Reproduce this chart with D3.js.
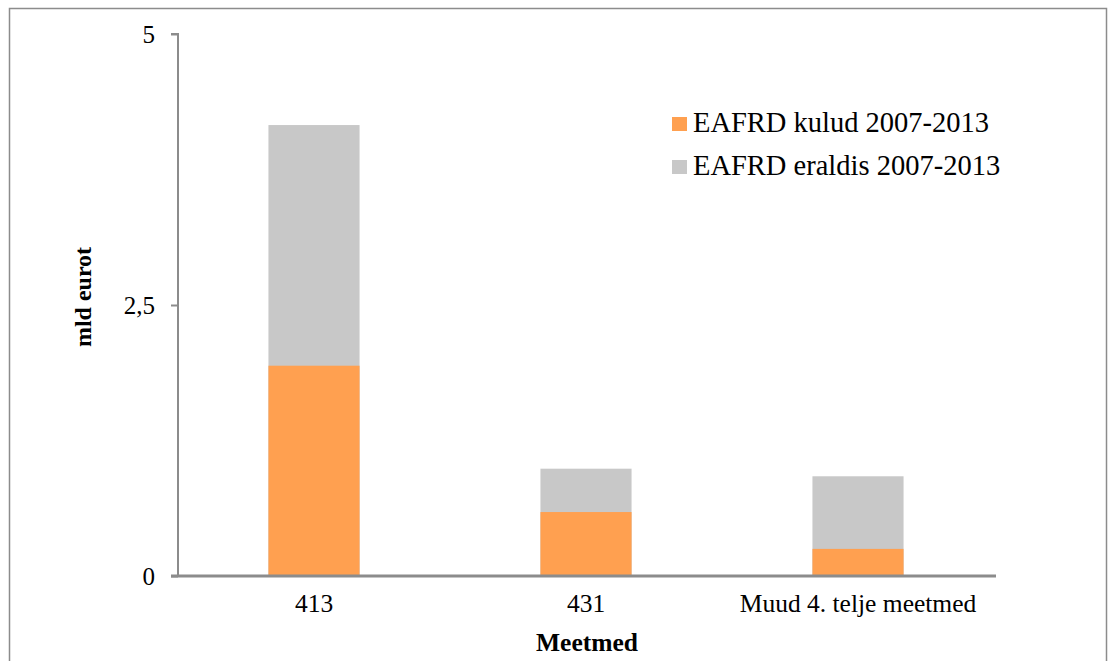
<!DOCTYPE html>
<html><head><meta charset="utf-8">
<script src="https://cdn.jsdelivr.net/npm/d3@7"></script>
<style>body{margin:0;background:#fff}svg{display:block}text{font-family:"Liberation Serif","Times New Roman",serif;fill:#000}</style>
</head><body>
<svg id="c" width="1109" height="661"></svg>
<script>
const categories = ["413", "431", "Muud 4. telje meetmed"];
const kulud = [1.94, 0.59, 0.25];     // EAFRD kulud 2007-2013
const eraldis = [4.16, 0.99, 0.92];   // EAFRD eraldis 2007-2013
const yTicks = [0, 2.5, 5];
const seriesNames = ["EAFRD kulud 2007-2013", "EAFRD eraldis 2007-2013"];
const colors = ["#FFA050", "#C8C8C8"];

const svg = d3.select("#c");
svg.append("rect").attr("x", 9.5).attr("y", 8.5).attr("width", 1097).attr("height", 660)
  .attr("fill", "#fff").attr("stroke", "#8c8c8c").attr("stroke-width", 1.5);

const m = {l: 178, r: 996, t: 34, b: 576};
const x = d3.scaleBand().domain(categories).range([m.l, m.l + 3 * 272]).paddingInner(0.665).paddingOuter(0.3325);
const y = d3.scaleLinear().domain([0, 5]).range([m.b, m.t]);

const g = svg.append("g");
g.selectAll("rect.e").data(categories).join("rect").attr("class", "e")
  .attr("x", d => x(d)).attr("width", x.bandwidth())
  .attr("y", (d, i) => y(eraldis[i])).attr("height", (d, i) => y(0) - y(eraldis[i]))
  .attr("fill", colors[1]);
g.selectAll("rect.k").data(categories).join("rect").attr("class", "k")
  .attr("x", d => x(d)).attr("width", x.bandwidth())
  .attr("y", (d, i) => y(kulud[i])).attr("height", (d, i) => y(0) - y(kulud[i]))
  .attr("fill", colors[0]);

const ya = svg.append("g").attr("transform", `translate(${m.l},0)`)
  .call(d3.axisLeft(y).tickValues(yTicks).tickSize(7).tickPadding(16)
    .tickFormat(d => String(d).replace(".", ",")));
ya.select(".domain").attr("stroke", "#8c8c8c").attr("stroke-width", 2).attr("d", `M-7,${m.t}H0V${m.b}`);
ya.selectAll(".tick line").attr("stroke", "#8c8c8c").attr("stroke-width", 2);
ya.selectAll(".tick text").attr("font-size", 25).attr("fill", "#000");

const xa = svg.append("g").attr("transform", `translate(0,${m.b})`)
  .call(d3.axisBottom(x).tickSize(0).tickPadding(18));
xa.select(".domain").attr("stroke", "#8c8c8c").attr("stroke-width", 3).attr("d", `M${m.l - 7},0H${m.r}`);
xa.selectAll(".tick text").attr("font-size", 25.5).attr("fill", "#000");

svg.append("text").attr("x", 587).attr("y", 651).attr("text-anchor", "middle")
  .attr("font-size", 25.5).attr("font-weight", "bold").text("Meetmed");
svg.append("text").attr("transform", "translate(91,297) rotate(-90)").attr("text-anchor", "middle")
  .attr("font-size", 24).attr("font-weight", "bold").text("mld eurot");

const lg = svg.append("g").attr("transform", "translate(672,132)");
seriesNames.forEach((s, i) => {
  lg.append("rect").attr("x", 0).attr("y", i * 43 - 15).attr("width", 15).attr("height", 14).attr("fill", colors[i]);
  lg.append("text").attr("x", 21).attr("y", i * 43).attr("font-size", 28.5).text(s);
});
</script>
</body></html>
